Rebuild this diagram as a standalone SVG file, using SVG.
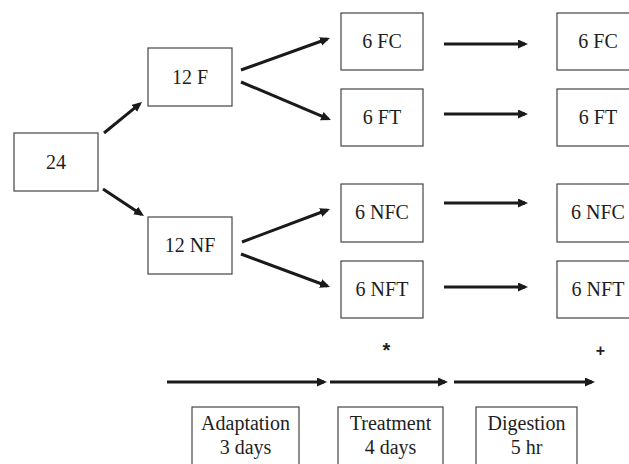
<svg xmlns="http://www.w3.org/2000/svg" width="629" height="464" viewBox="0 0 629 464">
<style>
.box{fill:#fff;stroke:#444;stroke-width:1.2}
.t{font-family:"Liberation Serif","Times New Roman",serif;font-size:20px;fill:#1e1e1e;text-anchor:middle}
.s{font-family:"Liberation Sans",Arial,sans-serif;font-weight:bold;fill:#1e1e1e;text-anchor:middle}
.a{stroke:#1a1a1a;stroke-width:3;fill:none;marker-end:url(#ah)}
</style>
<defs>
<marker id="ah" markerUnits="userSpaceOnUse" markerWidth="11" markerHeight="10" refX="7" refY="4.5" orient="auto">
<path d="M0,0 L10,4.5 L0,9 z" fill="#1a1a1a"/>
</marker>
</defs>
<rect width="629" height="464" fill="#fff"/>
<g id="n24"><rect class="box" x="14" y="133" width="84" height="58"/><text class="t" x="56" y="169">24</text></g>
<g id="n12F"><rect class="box" x="148" y="48" width="84" height="58"/><text class="t" x="190" y="84">12 F</text></g>
<g id="n12NF"><rect class="box" x="148" y="217" width="84" height="57"/><text class="t" x="190" y="252">12 NF</text></g>
<g id="nFC1"><rect class="box" x="341" y="13" width="82" height="57"/><text class="t" x="382" y="48">6 FC</text></g>
<g id="nFT1"><rect class="box" x="341" y="89" width="82" height="57"/><text class="t" x="382" y="124">6 FT</text></g>
<g id="nNFC1"><rect class="box" x="341" y="184" width="82" height="58"/><text class="t" x="382" y="219">6 NFC</text></g>
<g id="nNFT1"><rect class="box" x="341" y="261" width="82" height="57"/><text class="t" x="382" y="296">6 NFT</text></g>
<g id="nFC2"><rect class="box" x="557" y="13" width="82" height="57"/><text class="t" x="598" y="48">6 FC</text></g>
<g id="nFT2"><rect class="box" x="557" y="89" width="82" height="57"/><text class="t" x="598" y="124">6 FT</text></g>
<g id="nNFC2"><rect class="box" x="557" y="184" width="82" height="58"/><text class="t" x="598" y="219">6 NFC</text></g>
<g id="nNFT2"><rect class="box" x="557" y="261" width="82" height="57"/><text class="t" x="598" y="296">6 NFT</text></g>
<g id="nAdapt"><rect class="box" x="192" y="407" width="107" height="70"/><text class="t" x="245.5" y="430">Adaptation</text><text class="t" x="245.5" y="454">3 days</text></g>
<g id="nTreat"><rect class="box" x="338" y="407" width="105" height="70"/><text class="t" x="390.5" y="430">Treatment</text><text class="t" x="390.5" y="454">4 days</text></g>
<g id="nDig"><rect class="box" x="476" y="407" width="101" height="70"/><text class="t" x="526.5" y="430">Digestion</text><text class="t" x="526.5" y="454">5 hr</text></g>
<g id="marks"><text class="s" x="386.5" y="357" font-size="20">*</text><text class="s" x="600.5" y="356" font-size="16">+</text></g>
<g id="connectors">
<line class="a" x1="104" y1="133" x2="139.7" y2="103.9"/>
<line class="a" x1="103" y1="189" x2="141.5" y2="214.4"/>
<line class="a" x1="241" y1="70" x2="327.2" y2="39"/>
<line class="a" x1="241" y1="82" x2="328.2" y2="118.8"/>
<line class="a" x1="242" y1="242" x2="327.2" y2="210"/>
<line class="a" x1="241" y1="254" x2="327.2" y2="286"/>
<line class="a" x1="444" y1="44" x2="525" y2="44"/>
<line class="a" x1="444" y1="114" x2="525" y2="114"/>
<line class="a" x1="444" y1="203" x2="525" y2="203"/>
<line class="a" x1="444" y1="287" x2="525" y2="287"/>
<line class="a" x1="167" y1="382" x2="324" y2="382"/>
<line class="a" x1="330" y1="382" x2="445" y2="382"/>
<line class="a" x1="454" y1="382" x2="592" y2="382"/>
</g>
</svg>
